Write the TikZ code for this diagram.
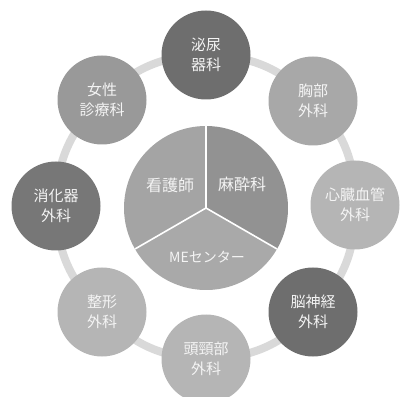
\documentclass[tikz,border=0pt]{standalone}
\usepackage{fontspec}
\setmainfont{Noto Sans CJK JP}
\definecolor{ringc}{HTML}{D9D9D9}
\definecolor{cdark}{HTML}{6E6E6E}
\definecolor{cdark2}{HTML}{777777}
\definecolor{cmid}{HTML}{999999}
\definecolor{cmid2}{HTML}{A8A8A8}
\definecolor{clight}{HTML}{B5B5B5}
\definecolor{pieA}{HTML}{A4A4A4}
\definecolor{pieB}{HTML}{929292}
\definecolor{pieC}{HTML}{A9A9A9}
\definecolor{txt}{HTML}{F4F4F4}
\tikzset{
  dept/.style={circle, minimum size=89pt, inner sep=0pt, text=txt,
    font=\fontsize{15}{20}\selectfont, align=center},
  ringline/.style={draw=ringc, line width=8pt},
  pielabel/.style={text=txt, inner sep=0pt},
  divider/.style={draw=white, line width=1.6pt}
}
\begin{document}
\begin{tikzpicture}[x=1pt,y=1pt]
\useasboundingbox (0,0) rectangle (401,396);
% centers
\coordinate (p1) at (206,341);
\coordinate (p2) at (313,295);
\coordinate (p3) at (355,191);
\coordinate (p4) at (313,84);
\coordinate (p5) at (206,37);
\coordinate (p6) at (102,84);
\coordinate (p7) at (56,190);
\coordinate (p8) at (102,296);
% ring
\draw[ringline] (p1) to[bend left=22.5] (p2) to[bend left=22.5] (p3)
  to[bend left=22.5] (p4) to[bend left=22.5] (p5) to[bend left=22.5] (p6)
  to[bend left=22.5] (p7) to[bend left=22.5] (p8) to[bend left=22.5] (p1);
% pie
\coordinate (pc) at (206,188);
\fill[pieA] (pc) -- ++(90:82) arc[start angle=90, end angle=210, radius=82] -- cycle;
\fill[pieC] (pc) -- ++(210:82) arc[start angle=210, end angle=330, radius=82] -- cycle;
\fill[pieB] (pc) -- ++(-30:82) arc[start angle=-30, end angle=90, radius=82] -- cycle;
\draw[divider] (pc) -- ++(90:82);
\draw[divider] (pc) -- ++(210:82);
\draw[divider] (pc) -- ++(330:82);
\node[pielabel, font=\fontsize{16}{18}\selectfont] (kango) at (170,211) {看護師};
\node[pielabel, font=\fontsize{16}{18}\selectfont] (masui) at (242,212) {麻酔科};
\node[pielabel, font=\fontsize{14}{16}\selectfont] (me) at (207,139) {MEセンター};
% departments
\node[dept, fill=cdark]  (d1) at (p1) {泌尿\\器科};
\node[dept, fill=cmid2]  (d2) at (p2) {胸部\\外科};
\node[dept, fill=clight] (d3) at (p3) {心臓血管\\外科};
\node[dept, fill=cdark]  (d4) at (p4) {脳神経\\外科};
\node[dept, fill=clight] (d5) at (p5) {頭頸部\\外科};
\node[dept, fill=clight] (d6) at (p6) {整形\\外科};
\node[dept, fill=cdark2] (d7) at (p7) {消化器\\外科};
\node[dept, fill=cmid]   (d8) at (p8) {女性\\診療科};
\end{tikzpicture}
\end{document}
